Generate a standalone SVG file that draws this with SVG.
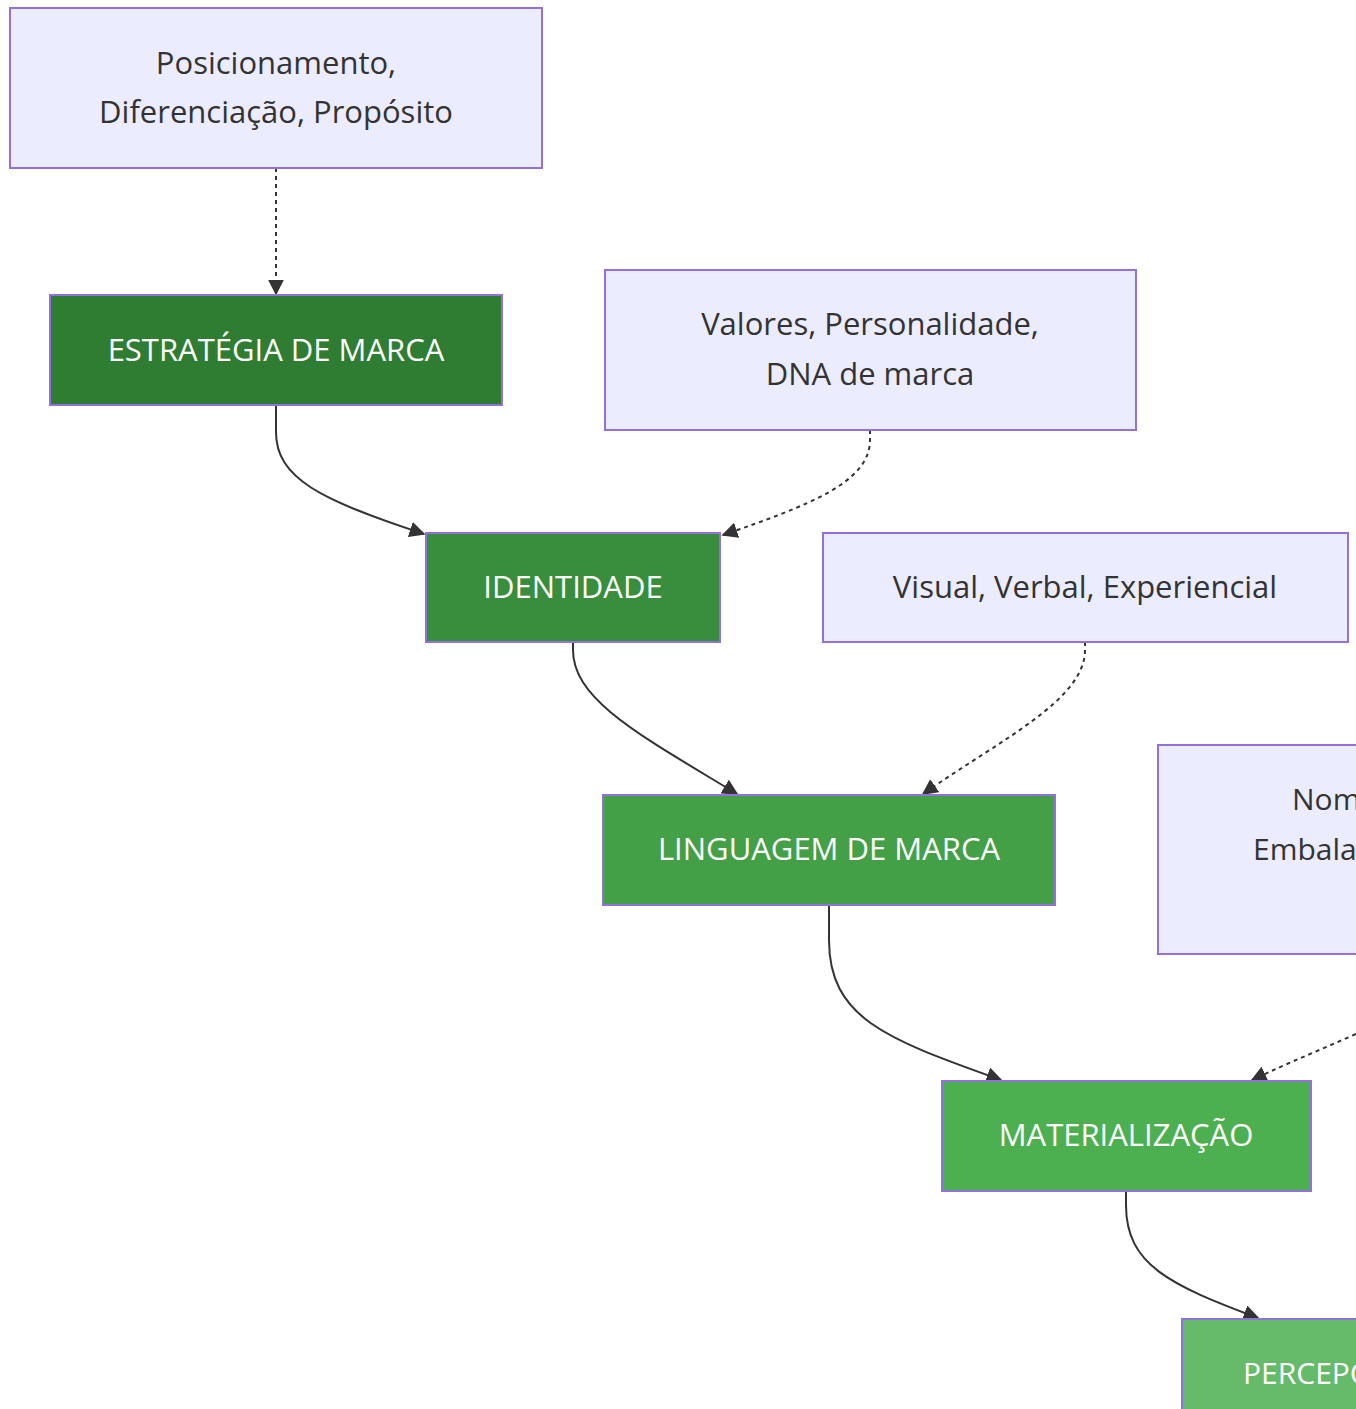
<svg xmlns="http://www.w3.org/2000/svg" width="1356" height="1409" viewBox="0 0 1356 1409">
  <defs>
    <marker id="arrow" viewBox="0 0 10 10" refX="9" refY="5" markerUnits="userSpaceOnUse" markerWidth="16" markerHeight="16" orient="auto">
      <path d="M0,0 L10,5 L0,10 z" fill="#333333"/>
    </marker>
    <style>
      .note rect { fill: #ECECFF; stroke: #9370DB; stroke-width: 2; }
      .step rect { stroke: #9370DB; stroke-width: 2; }
      text { font-family: "Open Sans", "Liberation Sans", sans-serif; font-size: 31px; text-anchor: middle; dominant-baseline: central; }
      .note text { fill: #333333; }
      .step text { fill: #FFFFFF; }
      .edge-text { text-anchor: start; font-size: 30px; }
      .edge { fill: none; stroke: #333333; stroke-width: 2; marker-end: url(#arrow); }
      .dotted { stroke-dasharray: 4 4; }
    </style>
  </defs>

  <rect width="1356" height="1409" fill="#FFFFFF"/>

  <!-- connectors -->
  <g id="edges">
    <path class="edge dotted" d="M276,168 L276,294"/>
    <path class="edge" d="M276,405 L276,432 C276,478 320,500 424,534"/>
    <path class="edge dotted" d="M870,430 L870,440 C870,482 810,505 723,535"/>
    <path class="edge" d="M573,642 L573,650 C573,700 640,735 737,794"/>
    <path class="edge dotted" d="M1085,642 L1085,650 C1085,700 1000,740 923,794"/>
    <path class="edge" d="M829,905 L829,940 C829,1020 890,1040 1001,1080"/>
    <path class="edge dotted" d="M1356,1034 C1320,1050 1290,1062 1252,1080"/>
    <path class="edge" d="M1126,1191 L1126,1205 C1126,1265 1170,1285 1258,1318"/>
  </g>

  <g id="posicionamento" class="note">
    <rect x="10" y="8" width="532" height="160"/>
    <text x="276" y="62">Posicionamento,</text>
    <text x="276" y="111">Diferenciação, Propósito</text>
  </g>

  <g id="estrategia" class="step">
    <rect x="50" y="295" width="452" height="110" fill="#2E7D32"/>
    <text x="276" y="349">ESTRATÉGIA DE MARCA</text>
  </g>

  <g id="valores" class="note">
    <rect x="605" y="270" width="531" height="160"/>
    <text x="870" y="323">Valores, Personalidade,</text>
    <text x="870" y="373">DNA de marca</text>
  </g>

  <g id="identidade" class="step">
    <rect x="426" y="533" width="294" height="109" fill="#388E3C"/>
    <text x="573" y="586">IDENTIDADE</text>
  </g>

  <g id="dimensoes" class="note">
    <rect x="823" y="533" width="525" height="109"/>
    <text x="1085" y="586">Visual, Verbal, Experiencial</text>
  </g>

  <g id="linguagem" class="step">
    <rect x="603" y="795" width="452" height="110" fill="#43A047"/>
    <text x="829" y="848">LINGUAGEM DE MARCA</text>
  </g>

  <g id="pontos-contato" class="note">
    <rect x="1158" y="745" width="220" height="209"/>
    <text class="edge-text" x="1292" y="798">Nom</text>
    <text class="edge-text" x="1253" y="848">Embala</text>
  </g>

  <g id="materializacao" class="step">
    <rect x="942" y="1081" width="369" height="110" fill="#4CAF50"/>
    <text x="1126" y="1134">MATERIALIZAÇÃO</text>
  </g>

  <g id="percepcao" class="step">
    <rect x="1182" y="1319" width="220" height="110" fill="#66BB6A"/>
    <text class="edge-text" x="1243" y="1372">PERCEPÇ</text>
  </g>
</svg>
